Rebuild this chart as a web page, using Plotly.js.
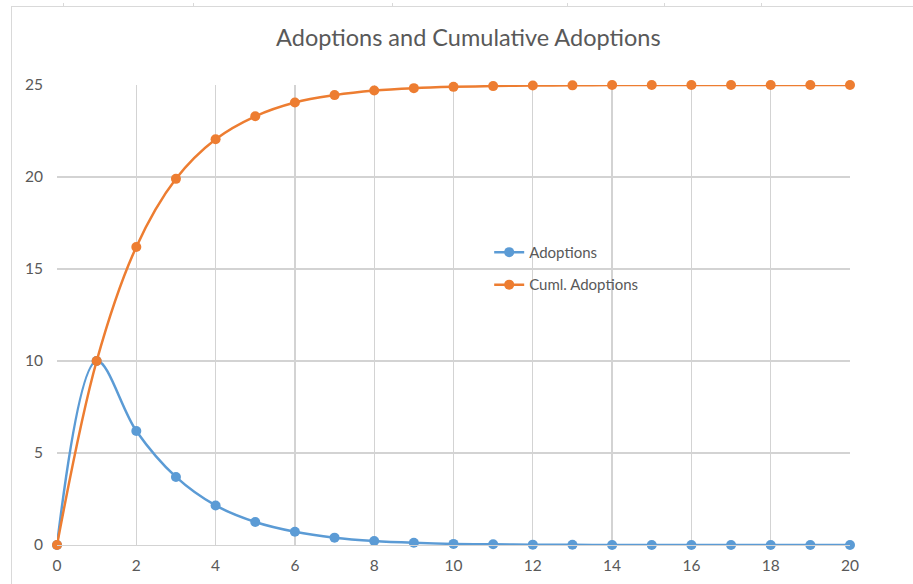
<!DOCTYPE html>
<html>
<head>
<meta charset="utf-8">
<script src="https://cdn.plot.ly/plotly-3.0.1.min.js"></script>
<style>
html,body{margin:0;padding:0;background:#fff;}
#wrap{position:relative;width:913px;height:584px;overflow:hidden;}
#chart{position:absolute;left:0;top:0;width:913px;height:584px;}
.ln{position:absolute;background:#d9d9d9;}
</style>
</head>
<body>
<div id="wrap">
<div id="chart"></div>
<div class="ln" style="left:11px;top:6px;width:1px;height:578px;"></div>
<div class="ln" style="left:11px;top:6px;width:902px;height:1px;"></div>
<div class="ln" style="left:63px;top:3px;width:1px;height:3px;"></div>
<div class="ln" style="left:193px;top:3px;width:1px;height:3px;"></div>
<div class="ln" style="left:392px;top:3px;width:1px;height:3px;"></div>
<div class="ln" style="left:567px;top:3px;width:1px;height:3px;"></div>
<div class="ln" style="left:664px;top:3px;width:1px;height:3px;"></div>
<div class="ln" style="left:761px;top:3px;width:1px;height:3px;"></div>
</div>
<script>
const periods = [0,1,2,3,4,5,6,7,8,9,10,11,12,13,14,15,16,17,18,19,20];
const adoptions = [0,10,6.2,3.7,2.15,1.25,0.72,0.4,0.22,0.12,0.06,0.04,0.02,0.01,0,0,0,0,0,0,0];
const cumlAdoptions = [0,10,16.2,19.9,22.05,23.3,24.05,24.45,24.7,24.83,24.9,24.94,24.97,24.98,25,25,25,25,25,25,25];
const seriesNames = ["Adoptions","Cuml. Adoptions"];
const chartTitle = "Adoptions and Cumulative Adoptions";

const font = "Lato, 'Open Sans', sans-serif";
const traces = [
  {x: periods, y: adoptions, name: seriesNames[0], type:'scatter', mode:'lines+markers',
   line:{color:'#5B9BD5', width:2.5, shape:'spline', smoothing:1},
   marker:{color:'#5B9BD5', size:10}, cliponaxis:false, legendgroup:'a'},
  {x: periods, y: cumlAdoptions, name: seriesNames[1], type:'scatter', mode:'lines+markers',
   line:{color:'#ED7D31', width:2.5, shape:'spline', smoothing:1},
   marker:{color:'#ED7D31', size:10}, cliponaxis:false, legendgroup:'b'}
];
const layout = {
  width:913, height:584,
  margin:{l:57, r:63, t:85, b:39},
  paper_bgcolor:'rgba(0,0,0,0)', plot_bgcolor:'#fff',
  title:{text:chartTitle, font:{family:font, size:23.5, color:'#595959'}, x:0.513, xanchor:'center', y:0.936, yanchor:'middle'},
  font:{family:font, color:'#595959'},
  xaxis:{range:[0,20], dtick:2, tick0:0, showgrid:true, gridcolor:'#d3d3d3', gridwidth:1.3,
    zeroline:false, showline:true, linecolor:'#d3d3d3', linewidth:1.3,
    ticks:'outside', ticklen:6, tickcolor:'rgba(0,0,0,0)',
    tickfont:{family:font, size:15.5, color:'#595959'}, fixedrange:true},
  yaxis:{range:[0,25], dtick:5, tick0:0, showgrid:true, gridcolor:'#d3d3d3', gridwidth:1.3,
    zeroline:false, showline:false,
    ticks:'outside', ticklen:10, tickcolor:'rgba(0,0,0,0)',
    tickfont:{family:font, size:15.5, color:'#595959'}, fixedrange:true},
  legend:{x:0.545, y:0.672, xanchor:'left', yanchor:'top', bgcolor:'rgba(0,0,0,0)',
    font:{family:font, size:15, color:'#595959'}, tracegroupgap:10},
  showlegend:true
};
Plotly.newPlot('chart', traces, layout, {displayModeBar:false, staticPlot:true});
</script>
</body>
</html>
